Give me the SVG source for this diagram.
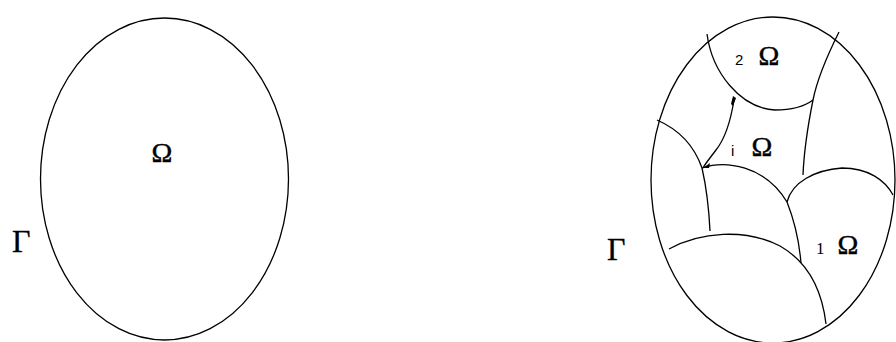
<svg xmlns="http://www.w3.org/2000/svg" width="896" height="342" viewBox="0 0 896 342">
<style>
.ln{fill:none;stroke:#000;stroke-width:1.3}
.om{font-family:"Liberation Serif",serif;font-size:28px;fill:#000;stroke:#000;stroke-width:0.5}
.gm{font-family:"Liberation Serif",serif;font-size:32px;fill:#000;stroke:#000;stroke-width:0.3}
.sb{font-family:"Liberation Sans",sans-serif;font-size:15px;fill:#000}
.sr{font-family:"Liberation Serif",serif;font-size:17px;fill:#000}
</style>
<rect width="896" height="342" fill="#fff"/>
<g id="left">
<ellipse class="ln" cx="164.5" cy="179" rx="124" ry="161"/>
<text class="om" x="162" y="162" text-anchor="middle">Ω</text>
<text class="gm" x="12" y="252">Γ</text>
</g>
<g id="right">
<ellipse class="ln" cx="773" cy="180" rx="122" ry="163"/>
<g id="curves">
<path class="ln" d="M707,34 C712,72 740,108 775,110 C792,110 805,106 813,100"/>
<path class="ln" d="M839,32 C826,58 817,80 813,100 C808,125 804,150 803,175"/>
<path class="ln" d="M734,100 C730,125 724,140 716,150 C710,158 705,164 703,168"/>
<path class="ln" d="M702,168 C725,160 765,165 787,202 C795,222 799,240 801,263"/>
<path class="ln" d="M787,202 C792,182 815,170 842,168 C868,168 885,180 893,195"/>
<path class="ln" d="M657,120 C680,130 695,148 702,168 C707,190 709,210 710,231"/>
<path class="ln" d="M669,249 C700,232 745,228 780,246 C808,262 822,290 826,324"/>
</g>
<path d="M733,96 L736,98 L733,106 L731,104 Z" fill="#000"/>
<path d="M703,168 L710,163 L709,168 Z" fill="#000"/>
<text class="sb" x="735" y="65">2</text>
<text class="om" x="769" y="65" text-anchor="middle">Ω</text>
<text class="sb" x="731" y="156">i</text>
<text class="om" x="762" y="156" text-anchor="middle">Ω</text>
<text class="sr" x="816" y="254">1</text>
<text class="om" x="848" y="254" text-anchor="middle">Ω</text>
<text class="gm" x="607" y="260">Γ</text>
</g>
</svg>
